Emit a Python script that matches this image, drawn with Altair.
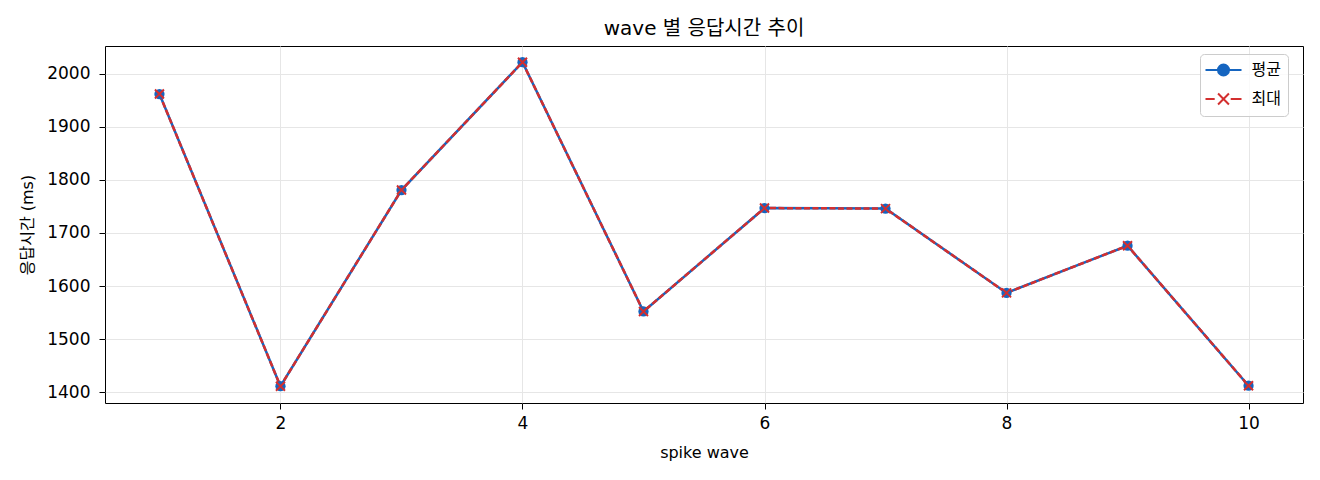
import altair as alt
import pandas as pd

waves = [1, 2, 3, 4, 5, 6, 7, 8, 9, 10]
avg_ms = [1962, 1411, 1781, 2022, 1552, 1747, 1746, 1587, 1676, 1412]
max_ms = [1962, 1411, 1781, 2022, 1552, 1747, 1746, 1587, 1676, 1412]
series = ["평균", "최대"]
colors = ["#1565C0", "#D32F2F"]
x_ticks = [2, 4, 6, 8, 10]
y_ticks = [1400, 1500, 1600, 1700, 1800, 1900, 2000]

FONT = "DejaVu Sans, Noto Sans CJK KR"
KFONT = "Noto Sans CJK KR"

df = pd.DataFrame({
    "wave": waves * 2,
    "ms": avg_ms + max_ms,
    "series": [series[0]] * len(waves) + [series[1]] * len(waves),
})

# legend symbols: line + marker as one path (concentric rings fill the dot)
avg_sym = ("M-2.25,0L2.25,0"
           "M0.69,0A0.69,0.69,0,1,1,-0.69,0A0.69,0.69,0,1,1,0.69,0"
           "M0.44,0A0.44,0.44,0,1,1,-0.44,0A0.44,0.44,0,1,1,0.44,0"
           "M0.19,0A0.19,0.19,0,1,1,-0.19,0A0.19,0.19,0,1,1,0.19,0")
max_sym = ("M-2.25,0L-1.1,0M0.9,0L2.25,0"
           "M-0.68,-0.68L0.68,0.68M-0.68,0.68L0.68,-0.68")

legend = alt.Legend(
    title=None,
    orient="none",
    legendX=1095,
    legendY=8,
    padding=7,
    rowPadding=9,
    symbolSize=256,
    symbolStrokeWidth=2,
    symbolOpacity=1,
    symbolOffset=7.5,
    labelOffset=19,
    labelFont=KFONT,
    labelFontSize=16,
    labelColor="black",
    strokeColor="#cccccc",
    fillColor="rgba(255,255,255,0.8)",
    cornerRadius=4,
)

x = alt.X("wave:Q",
          scale=alt.Scale(domain=[0.55, 10.45], nice=False, zero=False),
          axis=alt.Axis(values=x_ticks, format="d", title="spike wave",
                        titleX=599, titleY=54, titleBaseline="alphabetic",
                        titleAlign="center", labelPadding=6))
y = alt.Y("ms:Q",
          scale=alt.Scale(domain=[1379.4, 2052.6], nice=False, zero=False),
          axis=alt.Axis(values=y_ticks, format="d", title="응답시간 (ms)",
                        titleX=-78, titleY=178.5, titleBaseline="middle",
                        titleAlign="center", titleAngle=-90, labelPadding=9))

base = alt.Chart(df).encode(x=x, y=y)

line_avg = base.transform_filter(alt.datum.series == series[0]).mark_line(
    strokeWidth=2.5, color=colors[0])
line_max = base.transform_filter(alt.datum.series == series[1]).mark_line(
    strokeWidth=2.5, strokeDash=[6, 2.5], color=colors[1])
pts_avg = base.transform_filter(alt.datum.series == series[0]).mark_circle(
    size=105, opacity=1, color=colors[0])
pts_max = base.transform_filter(alt.datum.series == series[1]).mark_point(
    shape="M-1,-1L1,1M-1,1L1,-1", size=81, strokeWidth=2, filled=False,
    opacity=1, color=colors[1])

# empty layer that only carries the legend
legend_layer = base.transform_filter("false").mark_point(
    filled=False, strokeWidth=2, opacity=1).encode(
    color=alt.Color("series:N", scale=alt.Scale(domain=series, range=colors), legend=legend),
    shape=alt.Shape("series:N", scale=alt.Scale(domain=series, range=[avg_sym, max_sym]), legend=legend),
)

chart = alt.layer(line_avg, line_max, pts_avg, pts_max, legend_layer).properties(
    width=1198,
    height=357,
    autosize=alt.AutoSizeParams(type="none"),
    padding={"left": 97, "top": 38, "right": 9, "bottom": 69},
    title=alt.TitleParams("wave 별 응답시간 추이", font=FONT, fontSize=20,
                          fontWeight="normal", color="black", anchor="middle",
                          baseline="alphabetic", offset=11, dy=20),
).configure_view(
    stroke="black", strokeWidth=1
).configure_axis(
    domain=False,
    grid=True,
    gridColor="#e6e6e6",
    gridWidth=1,
    ticks=True,
    tickColor="black",
    tickSize=6,
    tickWidth=1,
    labelFont=FONT,
    labelFontSize=17,
    labelColor="black",
    titleFont=FONT,
    titleFontSize=16,
    titleFontWeight="normal",
    titleColor="black",
)

chart.save("out.html", embed_options={"renderer": "svg", "actions": False})
